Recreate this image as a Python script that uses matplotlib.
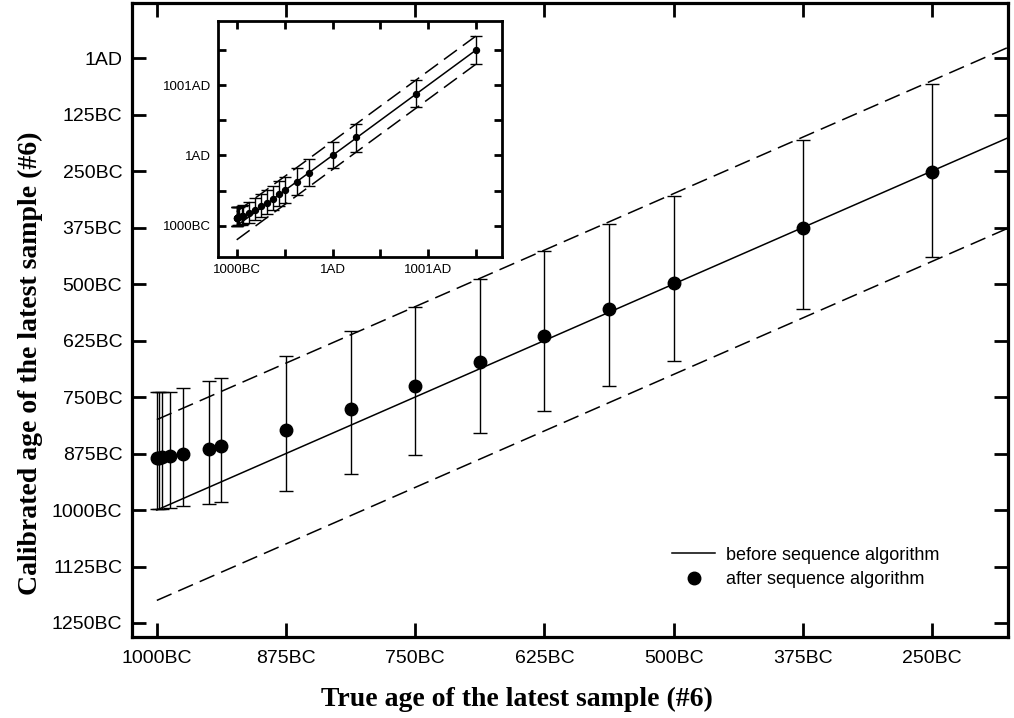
#!/usr/bin/env python3
#
# Calibrated vs true age of the latest sample, before/after sequence algorithm
#
import matplotlib
matplotlib.use('Agg')
import matplotlib.pyplot as plt
from matplotlib.lines import Line2D

# Set font
matplotlib.rc('font', family='Liberation Sans', size=14)

# True age (years, 1AD = 0, BC negative) and calibrated age after sequence
true_age = [-1000, -997.5, -995, -987.5, -975, -950, -937.5, -875,
            -812.5, -750, -687.5, -625, -562.5, -500, -375, -250]
calib_age = [-884, -884, -883, -880, -876, -866, -859, -824,
             -777, -726, -672, -614, -555, -497, -375, -252]
calib_hi = [-740, -740, -740, -738, -729, -715, -707, -659,
            -605, -550, -489, -428, -367, -305, -181, -57]
calib_lo = [-998, -998, -997, -995, -991, -986, -982, -958,
            -921, -878, -830, -780, -726, -670, -556, -441]

# Extra points only shown in the inset
extra_true = [0, 250, 875, 1500]
extra_calib = [3, 255, 877, 1498]
extra_hi = [194, 442, 1072, 1697]
extra_lo = [-184, 52, 683, 1299]

# Before sequence algorithm: calibrated = true, with +-200 yr band
line_age = [-1000, 1500]
band = 200

main_ticks = [0, -125, -250, -375, -500, -625, -750, -875, -1000, -1125, -1250]
xticks = [-1000, -875, -750, -625, -500, -375, -250]
inset_ticks = [-1000, -500, 0, 500, 1000, 1500]
inset_labels = {-1000: '1000BC', 0: '1AD', 1000: '1001AD'}


def age_label(v):
    if v >= 0:
        return '%dAD' % (v + 1)
    return '%dBC' % (-v)


def draw(ax, x, y, hi, lo, ms, cap):
    yerr = [[a - b for a, b in zip(y, lo)], [b - a for a, b in zip(y, hi)]]
    ax.errorbar(x, y, yerr=yerr, fmt='o', color='k', ms=ms, capsize=cap,
                elinewidth=1.0, capthick=1.0, zorder=3)
    ax.plot(line_age, line_age, color='k', lw=1.1)
    for s in (band, -band):
        ax.plot(line_age, [a + s for a in line_age], color='k', lw=1.1,
                dashes=(10.5, 4.8))


fig = plt.figure(figsize=(10.14, 7.18), dpi=100)
ax = fig.add_axes([0.1302, 0.1128, 0.8639, 0.883])

draw(ax, true_age, calib_age, calib_hi, calib_lo, 9, 5)

ax.set_xlim(-1024, -176.5)
ax.set_ylim(-1281, 121.7)
ax.set_xticks(xticks)
ax.set_xticklabels([age_label(v) for v in xticks])
ax.set_yticks(main_ticks)
ax.set_yticklabels([age_label(v) for v in main_ticks])
ax.tick_params(direction='in', length=10, width=2, top=True, right=True)
ax.tick_params(axis='x', pad=9)
ax.tick_params(axis='y', pad=7)
for sp in ax.spines.values():
    sp.set_linewidth(2.3)

serif = {'family': 'Liberation Serif', 'weight': 'bold', 'size': 20}
ax.text(0.4395, -0.098, 'True age of the latest sample (#6)', transform=ax.transAxes,
        ha='center', va='center', fontdict=serif)
ax.text(-0.1164, 0.432, 'Calibrated age of the latest sample (#6)',
        transform=ax.transAxes, ha='center', va='center', rotation=90,
        fontdict=serif)

# Legend
handles = [
    Line2D([], [], color='k', lw=1.1),
    Line2D([], [], color='k', marker='o', ls='none', ms=9),
]
ax.legend(handles, ['before sequence algorithm', 'after sequence algorithm'],
          loc='center left', bbox_to_anchor=(0.606, 0.110), frameon=False,
          borderpad=0, handlelength=2.4, handletextpad=0.6, labelspacing=0.4,
          fontsize=13)

# Inset
ins = fig.add_axes([0.2153, 0.6416, 0.2795, 0.3295])
ins.set_facecolor('white')
draw(ins, true_age + extra_true, calib_age + extra_calib,
     calib_hi + extra_hi, calib_lo + extra_lo, 4.3, 4.5)
ins.set_xlim(-1192, 1766)
ins.set_ylim(-1449, 1914)
ins.set_xticks(inset_ticks)
ins.set_yticks(inset_ticks)
ins.set_xticklabels([inset_labels.get(v, '') for v in inset_ticks])
ins.set_yticklabels([inset_labels.get(v, '') for v in inset_ticks])
ins.tick_params(direction='in', length=6, width=2, top=True, right=True,
                labelsize=9.5, pad=5)
for sp in ins.spines.values():
    sp.set_linewidth(2)

fig.savefig('out.png', dpi=100)
